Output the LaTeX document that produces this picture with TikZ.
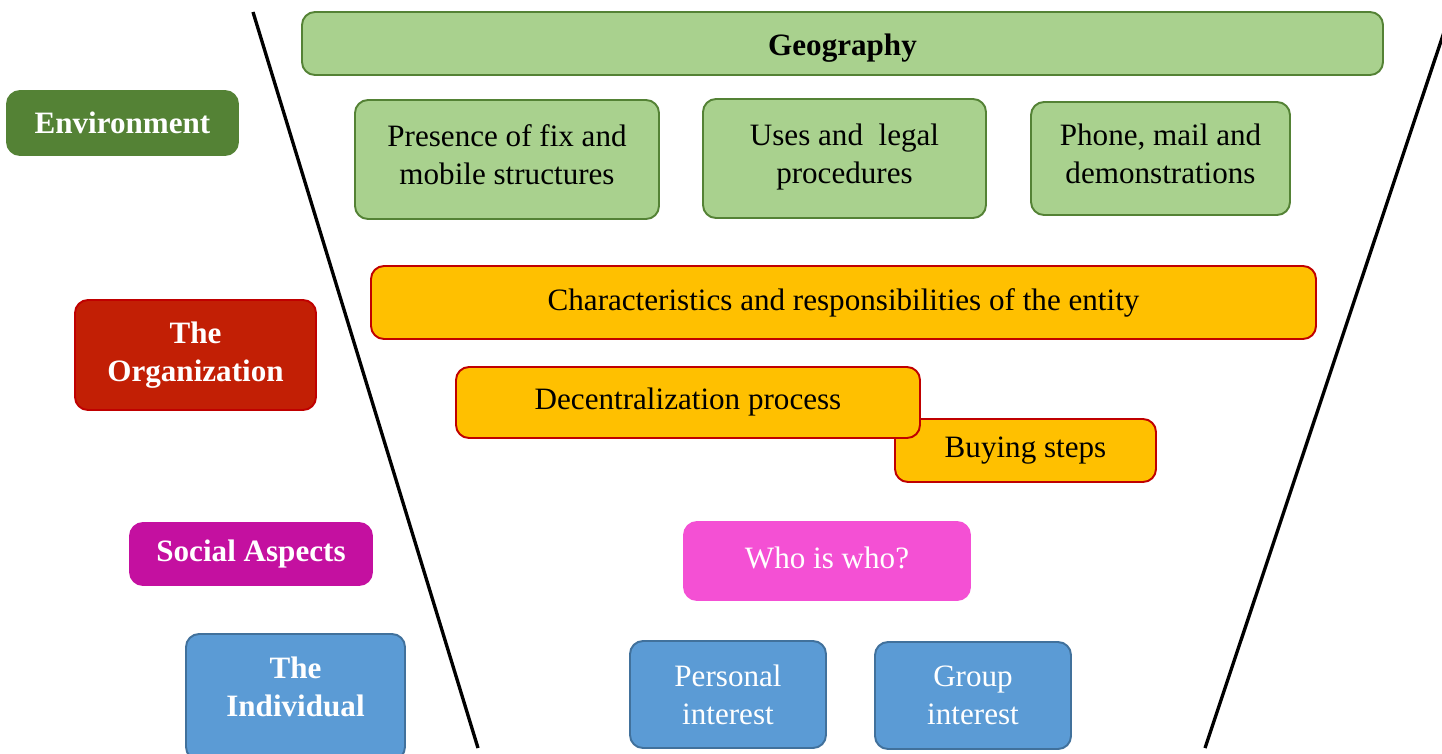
\documentclass[tikz,border=0pt]{standalone}
\usepackage{fontspec}
\setmainfont{Liberation Serif}
\usepackage{tikz}
\usetikzlibrary{positioning}

\definecolor{leaf}{HTML}{A9D18E}
\definecolor{forest}{HTML}{548235}
\definecolor{amber}{HTML}{FFC000}
\definecolor{crimson}{HTML}{C00000}
\definecolor{brick}{HTML}{C21F05}
\definecolor{plum}{HTML}{C410A0}
\definecolor{pink}{HTML}{F450D4}
\definecolor{sky}{HTML}{5B9BD5}
\definecolor{steel}{HTML}{41719C}

\tikzstyle{box} = [rectangle, rounded corners=0.26cm, line width=1.1pt, align=center, text centered, font=\fontsize{17.7}{21.6}\selectfont]
\tikzstyle{envlabel} = [box, draw=forest, fill=forest, text=white, font=\fontsize{17.7}{21.6}\selectfont\bfseries]
\tikzstyle{envitem} = [box, draw=forest, fill=leaf]
\tikzstyle{orglabel} = [box, draw=crimson, fill=brick, text=white, font=\fontsize{17.7}{21.6}\selectfont\bfseries]
\tikzstyle{orgitem} = [box, draw=crimson, fill=amber]
\tikzstyle{soclabel} = [box, draw=plum, fill=plum, text=white, font=\fontsize{17.7}{21.6}\selectfont\bfseries]
\tikzstyle{socitem} = [box, draw=pink, fill=pink, text=white]
\tikzstyle{indlabel} = [box, draw=steel, fill=sky, text=white, font=\fontsize{17.7}{21.6}\selectfont\bfseries]
\tikzstyle{inditem} = [box, draw=steel, fill=sky, text=white]
\tikzstyle{funnel} = [line width=1.9pt, black]

\begin{document}
\begin{tikzpicture}

    \clip (0,0) rectangle (28.84,-15.06);

    % environment
    \node (geography) [envitem, minimum width=21.62cm, minimum height=1.26cm, text height=0.61cm, text depth=0.14cm, font=\fontsize{17.7}{21.6}\selectfont\bfseries] at (16.85,-0.87) {Geography};
    \node (environment) [envlabel, minimum width=4.62cm, minimum height=1.28cm] at (2.45,-2.46) {Environment};
    \node (presence) [envitem, minimum width=6.08cm, minimum height=2.38cm, text depth=0.2cm] at (10.14,-3.19) {Presence of fix and\\mobile structures};
    \node (uses) [envitem, minimum width=5.66cm, minimum height=2.38cm, text depth=0.2cm] at (16.89,-3.17) {Uses and\ \ legal\\procedures};
    \node (phone) [envitem, minimum width=5.18cm, minimum height=2.26cm, text depth=0.2cm] at (23.21,-3.17) {Phone, mail and\\demonstrations};

    % organization
    \node (characteristics) [orgitem, minimum width=18.9cm, minimum height=1.46cm] at (16.87,-6.05) {Characteristics and responsibilities of the entity};
    \node (organization) [orglabel, minimum width=4.82cm, minimum height=2.2cm] at (3.91,-7.10) {The\\Organization};
    \node (buying) [orgitem, minimum width=5.22cm, minimum height=1.26cm] at (20.51,-9.01) {Buying steps};
    \node (decentral) [orgitem, minimum width=9.28cm, minimum height=1.42cm] at (13.76,-8.05) {Decentralization process};

    % social
    \node (social) [soclabel, minimum width=4.84cm, minimum height=1.24cm] at (5.02,-11.08) {Social Aspects};
    \node (who) [socitem, minimum width=5.72cm, minimum height=1.56cm] at (16.54,-11.22) {\raisebox{0.12cm}{Who is who?}};

    % individual
    \node (individual) [indlabel, minimum width=4.38cm, minimum height=2.52cm, text depth=0.4cm] at (5.91,-13.94) {The\\Individual};
    \node (personal) [inditem, minimum width=3.92cm, minimum height=2.14cm] at (14.56,-13.89) {Personal\\interest};
    \node (group) [inditem, minimum width=3.92cm, minimum height=2.14cm] at (19.46,-13.91) {Group\\interest};

    \coordinate (lefttop) at (5.06,-0.24);
    \coordinate (leftbottom) at (9.56,-14.96);
    \coordinate (righttop) at (28.9,-0.58);
    \coordinate (rightbottom) at (24.10,-14.96);

    \draw [funnel] (lefttop) -- (leftbottom);
    \draw [funnel] (righttop) -- (rightbottom);
\end{tikzpicture}
\end{document}
